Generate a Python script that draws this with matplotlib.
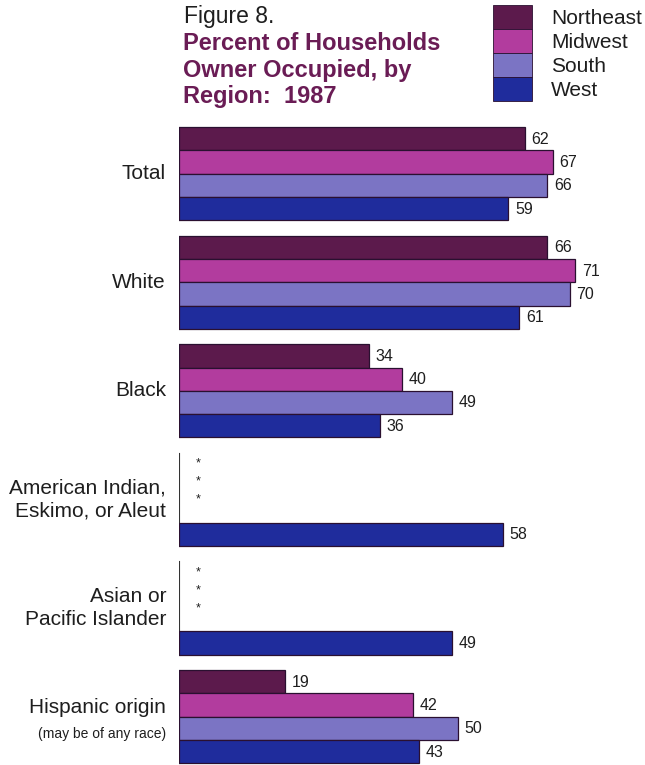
import numpy as np
import matplotlib
matplotlib.use("Agg")
import matplotlib.pyplot as plt
from matplotlib.patches import Rectangle

plt.rcParams['font.family'] = ['Liberation Sans', 'DejaVu Sans']

categories = ["Total", "White", "Black", "American Indian,\nEskimo, or Aleut",
              "Asian or\nPacific Islander", "Hispanic origin"]
regions = ["Northeast", "Midwest", "South", "West"]
northeast = [62, 66, 34, None, None, 19]
midwest = [67, 71, 40, None, None, 42]
south = [66, 70, 49, None, None, 50]
west = [59, 61, 36, 58, 49, 43]
colors = ["#5c1a4c", "#b23c9e", "#7b74c4", "#1f2c9c"]

series = [northeast, midwest, south, west]

W, H = 645, 765
fig = plt.figure(figsize=(W / 100, H / 100), dpi=100)
fig.patch.set_facecolor("white")

px_per_unit = 5.58
x0_px = 179
ax = fig.add_axes([x0_px / W, 0, 1 - x0_px / W, 1])
ax.set_xlim(0, (W - x0_px) / px_per_unit)
ax.set_ylim(H, 0)
ax.axis("off")

group_top0 = 127
group_step = 108.6
bar_h = 23.3
txt = "#1e1e1e"

for g, cat in enumerate(categories):
    top = group_top0 + g * group_step
    bottom = top + 4 * bar_h
    ax.plot([0, 0], [top, bottom], color="#333333", lw=0.8, zorder=1)
    for k, s in enumerate(series):
        v = s[g]
        yc = top + k * bar_h + bar_h / 2
        if v is None:
            ax.text(3.4, top + 11 + k * 18, "*", ha="center", va="center",
                    fontsize=9, color=txt)
            continue
        ax.barh(yc, v, height=bar_h, color=colors[k], edgecolor="#2a1030",
                linewidth=0.9, zorder=2)
        ax.text(v + 1.2, yc + 0.5, str(v), ha="left", va="center",
                fontsize=11.5, color=txt)
    yc_group = top + 2 * bar_h
    if cat == "Hispanic origin":
        fig.text(166 / W, 1 - (yc_group - 9) / H, cat, ha="right", va="center",
                 fontsize=15, color=txt)
        fig.text(166 / W, 1 - (yc_group + 17) / H, "(may be of any race)",
                 ha="right", va="center", fontsize=10, color=txt)
    else:
        fig.text(166 / W, 1 - yc_group / H, cat, ha="right", va="center",
                 fontsize=15, color=txt, linespacing=1.25)

# Title
fig.text(184 / W, 1 - 16 / H, "Figure 8.", ha="left", va="center",
         fontsize=16.5, color=txt)
title_lines = ["Percent of Households", "Owner Occupied, by", "Region:  1987"]
for i, line in enumerate(title_lines):
    fig.text(183 / W, 1 - (44 + i * 26.5) / H, line, ha="left", va="center",
             fontsize=17, fontweight="bold", color="#6a1c55")

# Legend
for k, (r, c) in enumerate(zip(regions, colors)):
    ytop = 5 + k * 24
    fig.patches.append(Rectangle((493 / W, 1 - (ytop + 24) / H), 39 / W, 24 / H,
                                 transform=fig.transFigure, facecolor=c,
                                 edgecolor="#2a1030", linewidth=0.6))
    fig.text(551 / W, 1 - (ytop + 13) / H, r, ha="left", va="center",
             fontsize=15, color=txt)

fig.savefig("out.png", dpi=100)
